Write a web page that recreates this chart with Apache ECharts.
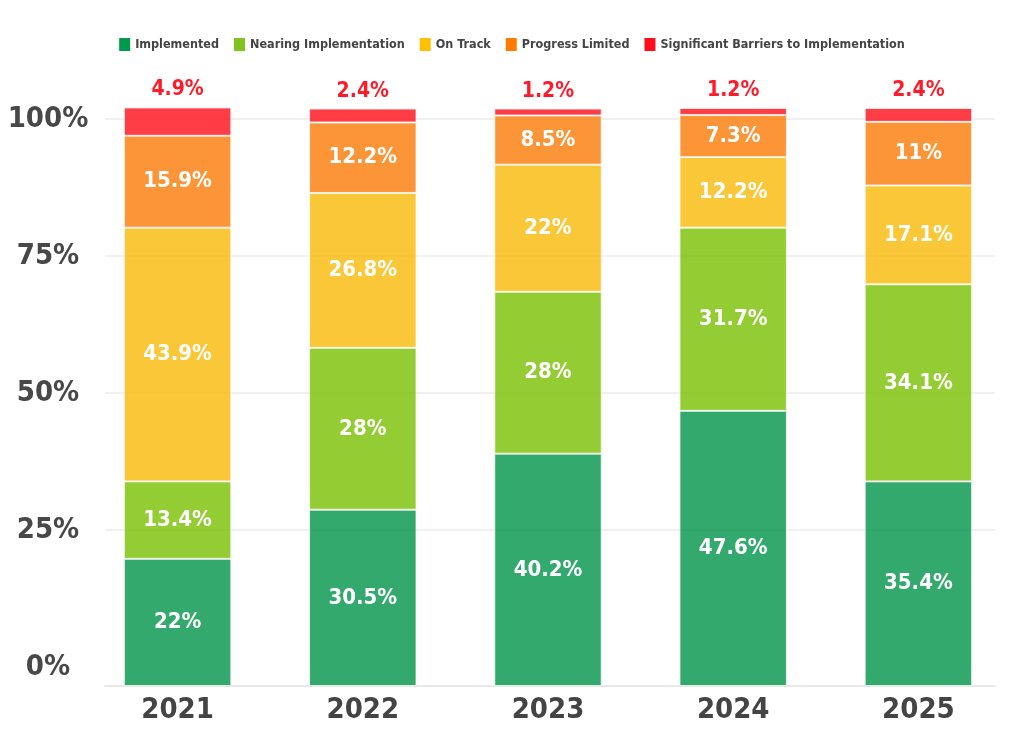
<!DOCTYPE html>
<html>
<head>
<meta charset="utf-8">
<script src="https://cdn.jsdelivr.net/npm/echarts@6/dist/echarts.min.js"></script>
<style>
html,body{margin:0;padding:0;background:#fff;}
#c{width:1024px;height:735px;}
</style>
</head>
<body>
<div id="c"></div>
<script>
const years = ['2021', '2022', '2023', '2024', '2025'];
const seriesNames = ['Implemented', 'Nearing Implementation', 'On Track', 'Progress Limited', 'Significant Barriers to Implementation'];
const implemented = [22, 30.5, 40.2, 47.6, 35.4];
const nearing = [13.4, 28, 28, 31.7, 34.1];
const onTrack = [43.9, 26.8, 22, 12.2, 17.1];
const progressLimited = [15.9, 12.2, 8.5, 7.3, 11];
const barriers = [4.9, 2.4, 1.2, 1.2, 2.4];
const yTicks = [0, 25, 50, 75, 100];

const colors = ['rgba(0,147,74,0.8)', 'rgba(120,192,0,0.8)', 'rgba(247,185,5,0.8)', 'rgba(250,122,5,0.8)', 'rgba(255,12,25,0.8)'];
const legendColors = ['#009a4e', '#7fc31c', '#ffc000', '#ff7b00', '#ff0d1f'];
const FONT = '"DejaVu Sans Condensed", "Liberation Sans Narrow", sans-serif';

const chart = echarts.init(document.getElementById('c'));
const dataSets = [implemented, nearing, onTrack, progressLimited, barriers];

const series = dataSets.map((d, i) => {
  const isTop = i === dataSets.length - 1;
  return {
    name: seriesNames[i],
    type: 'bar',
    stack: 'total',
    xAxisIndex: 1,
    yAxisIndex: 1,
    barWidth: '58%',
    clip: false,
    data: d,
    itemStyle: { color: colors[i], borderColor: 'rgba(255,255,255,0.7)', borderWidth: 1 },
    label: {
      show: true,
      position: isTop ? 'top' : 'inside',
      distance: 7,
      formatter: '{c}%',
      color: isTop ? '#ff1a2a' : '#ffffff',
      fontFamily: FONT,
      fontWeight: 'bold',
      fontSize: isTop ? 21 : 22
    },
    emphasis: { disabled: true }
  };
});

series.push({ type: 'line', xAxisIndex: 2, yAxisIndex: 2, data: [], silent: true });
series.push({ type: 'line', xAxisIndex: 0, yAxisIndex: 0, data: [], silent: true });

chart.setOption({
  backgroundColor: '#ffffff',
  animation: false,
  legend: {
    top: 33,
    left: 'center',
    itemWidth: 11,
    itemHeight: 13,
    itemGap: 15,
    icon: 'rect',
    data: seriesNames.map((n, i) => ({ name: n, itemStyle: { color: legendColors[i], borderWidth: 0 } })),
    textStyle: { fontFamily: FONT, fontWeight: 'bold', fontSize: 12.5, color: '#444444' }
  },
  grid: [
    { left: 105, right: 29, top: 119, height: 548 },
    { left: 85, right: 13, top: 108, height: 578 },
    { left: 105, right: 29, top: 685, height: 1 }
  ],
  xAxis: [
    { gridIndex: 0, type: 'value', show: false },
    {
      gridIndex: 1, type: 'category', data: years,
      axisLine: { show: false }, axisTick: { show: false },
      axisLabel: { margin: 10, color: '#444444', fontFamily: FONT, fontWeight: 'bold', fontSize: 29 }
    },
    {
      gridIndex: 2, type: 'value', min: 0, max: 1,
      axisLine: { show: true, lineStyle: { color: '#e8e8e8', width: 2 } },
      axisTick: { show: false }, axisLabel: { show: false }, splitLine: { show: false }
    }
  ],
  yAxis: [
    {
      gridIndex: 0, type: 'value', min: yTicks[0], max: yTicks[yTicks.length - 1], interval: 25,
      axisLine: { show: false }, axisTick: { show: false },
      axisLabel: {
        formatter: '{value}%', align: 'center', margin: 57,
        color: '#484848', fontFamily: FONT, fontWeight: 'bold', fontSize: 29
      },
      splitLine: { lineStyle: { color: ['rgba(0,0,0,0)', '#ebebeb', '#ebebeb', '#ebebeb', '#ebebeb'], width: 1.5 } }
    },
    { gridIndex: 1, type: 'value', min: 0, max: 100, show: false },
    { gridIndex: 2, type: 'value', show: false }
  ],
  series: series
});
</script>
</body>
</html>
